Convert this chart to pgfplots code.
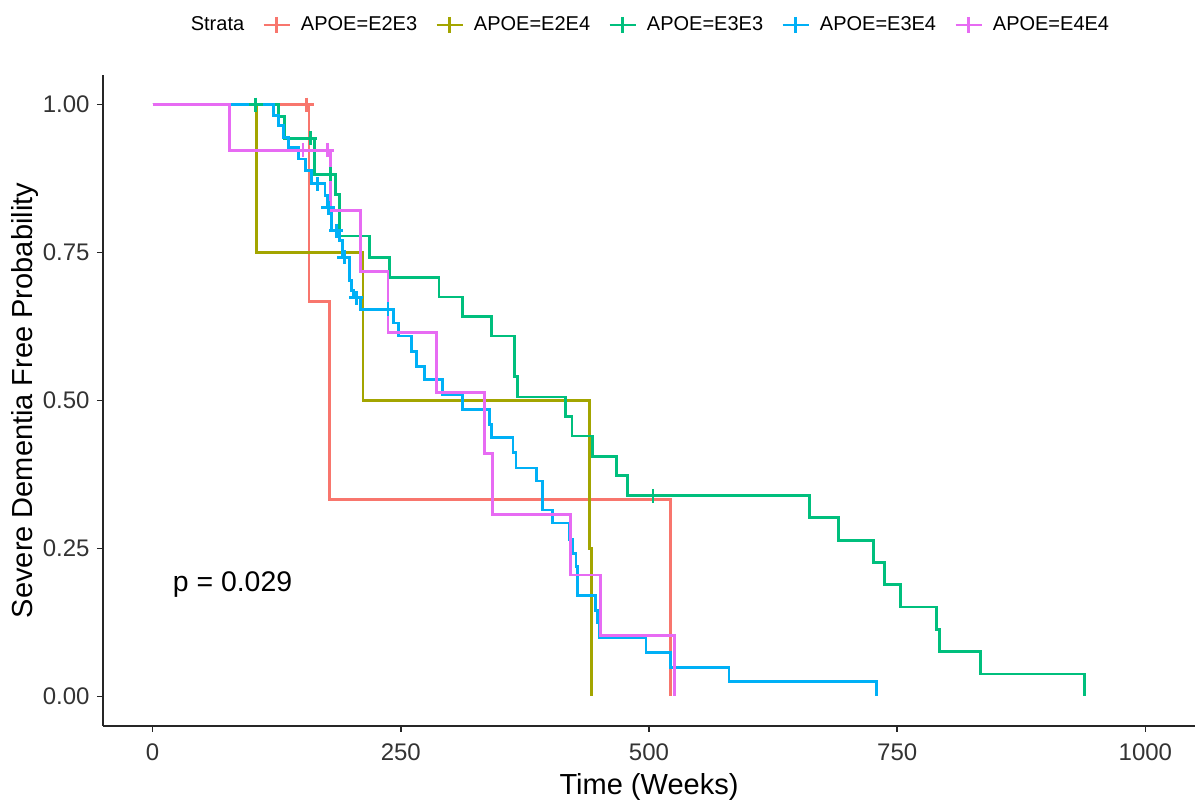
\documentclass[border=0pt]{standalone}
\usepackage{fontspec}
\setmainfont{Liberation Sans}
\usepackage{pgfplots}
\pgfplotsset{compat=1.18}
\definecolor{cA}{HTML}{F8766D}
\definecolor{cB}{HTML}{A3A500}
\definecolor{cC}{HTML}{00BF7D}
\definecolor{cD}{HTML}{00B0F6}
\definecolor{cE}{HTML}{E76BF3}
\begin{document}
\begin{tikzpicture}
\useasboundingbox (0,0) rectangle (597.5pt,400.5pt);
\begin{axis}[
  at={(51.5pt,37.5pt)}, anchor=south west,
  scale only axis, width=546pt, height=325.5pt,
  xmin=-50, xmax=1050, ymin=-0.05, ymax=1.05,
  axis x line*=bottom, axis y line*=left,
  axis line style={line width=0.7pt, black!85, -},
  xtick={0,250,500,750,1000},
  xticklabels={0,250,500,750,1000},
  ytick={0,0.25,0.5,0.75,1},
  yticklabels={0.00,0.25,0.50,0.75,1.00},
  tick align=outside, major tick length=3pt,
  tick style={line width=0.7pt, black!85},
  /pgf/number format/assume math mode=true,
  ticklabel style={font=\fontsize{12}{14}\selectfont, text=black!80},
  xticklabel style={anchor=north, inner sep=0pt, yshift=-5.5pt},
  yticklabel style={anchor=east, inner sep=0pt, xshift=-3.5pt},
  xlabel={Time (Weeks)}, ylabel={Severe Dementia Free Probability},
  label style={font=\fontsize{14.5}{17}\selectfont},
  xlabel style={at={(axis description cs:0.5,-0.1045)}, anchor=base, inner sep=0pt},
  ylabel style={at={(axis description cs:-0.0641,0.5)}, anchor=base, inner sep=0pt},
  legend columns=-1,
  legend style={at={(axis description cs:0.4963,1.0768)}, anchor=center, draw=none,
    font=\fontsize{10}{12}\selectfont, inner sep=0pt,
    nodes={inner sep=0pt},
    /tikz/every odd column/.append style={column sep=5pt},
    /tikz/every even column/.append style={column sep=9pt}},
  legend image code/.code={\draw[#1, line width=1.4pt, mark=+, mark repeat=2, mark phase=2, mark size=4pt] plot coordinates {(0pt,0pt)(6.5pt,0pt)(13pt,0pt)};},
]
\addlegendimage{empty legend}
\addlegendentry{Strata}
% E2E3
\addplot[const plot, color=cA, no marks, line width=1.4pt] coordinates {(0,1)(157.5,0.6667)(178,0.3333)(522,0)};
\addlegendentry{APOE=E2E3}
% E2E4
\addplot[const plot, color=cB, no marks, line width=1.4pt] coordinates {(0,1)(104.5,0.75)(212,0.5)(440,0.25)(442,0)};
\addlegendentry{APOE=E2E4}
% E3E3
\addplot[const plot, color=cC, no marks, line width=1.4pt] coordinates {
(0,1)(126.8,0.980)(132.5,0.943)(163,0.882)(184,0.848)(188,0.778)(218.5,0.742)
(238.5,0.708)(288.5,0.675)(312.5,0.642)(341.5,0.609)(364.5,0.540)(367.5,0.506)
(416,0.473)(422.5,0.440)(443,0.406)(467,0.373)(478,0.339)(662,0.302)(691,0.264)
(726,0.226)(737,0.189)(753,0.151)(790,0.113)(793,0.0755)(834,0.0378)(939,0)};
\addlegendentry{APOE=E3E3}
% E3E4
\addplot[const plot, color=cD, no marks, line width=1.4pt] coordinates {
(0,1)(121.8,0.982)(126.8,0.965)(131.8,0.944)(137,0.927)(146.6,0.908)(153.6,0.888)
(160.3,0.866)(173.7,0.846)(176,0.826)(180.4,0.787)(188,0.770)(191.5,0.742)
(198,0.703)(200.5,0.686)(202,0.674)(209,0.654)(242.3,0.631)(247.3,0.609)
(260.7,0.583)(265.7,0.558)(274,0.535)(292,0.510)(312,0.485)(339,0.459)(341,0.437)
(363,0.412)(366,0.386)(387,0.364)(393,0.315)(403,0.293)(419.5,0.265)(423,0.241)
(426.5,0.220)(428,0.170)(446.5,0.145)(448,0.124)(450,0.099)(497,0.074)(522,0.049)
(580.5,0.025)(729,0)};
\addlegendentry{APOE=E3E4}
% E4E4
\addplot[const plot, color=cE, no marks, line width=1.4pt] coordinates {
(0,1)(77.5,0.923)(179,0.821)(209,0.718)(237,0.615)(286,0.513)(334,0.410)
(342,0.308)(421,0.205)(451,0.103)(526,0)};
\addlegendentry{APOE=E4E4}
% censor marks
\addplot[only marks, mark=+, mark size=3.5pt, line width=1.4pt, color=cA, forget plot] coordinates {(155,1)};
\addplot[only marks, mark=+, mark size=3.5pt, line width=1.4pt, color=cC, forget plot] coordinates {(104,1)(159,0.943)(179,0.882)(504,0.339)};
\addplot[only marks, mark=+, mark size=3.5pt, line width=1.4pt, color=cD, forget plot] coordinates {(166,0.866)(177,0.826)(185,0.787)(193,0.742)(205,0.674)(237,0.654)};
\addplot[only marks, mark=+, mark size=3.5pt, line width=1.4pt, color=cE, forget plot] coordinates {(151.5,0.923)(176,0.923)};
\node[anchor=base west, inner sep=0pt, font=\fontsize{14.2}{17}\selectfont] at (axis cs:20,0.178) {p = 0.029};
\end{axis}
\end{tikzpicture}
\end{document}
